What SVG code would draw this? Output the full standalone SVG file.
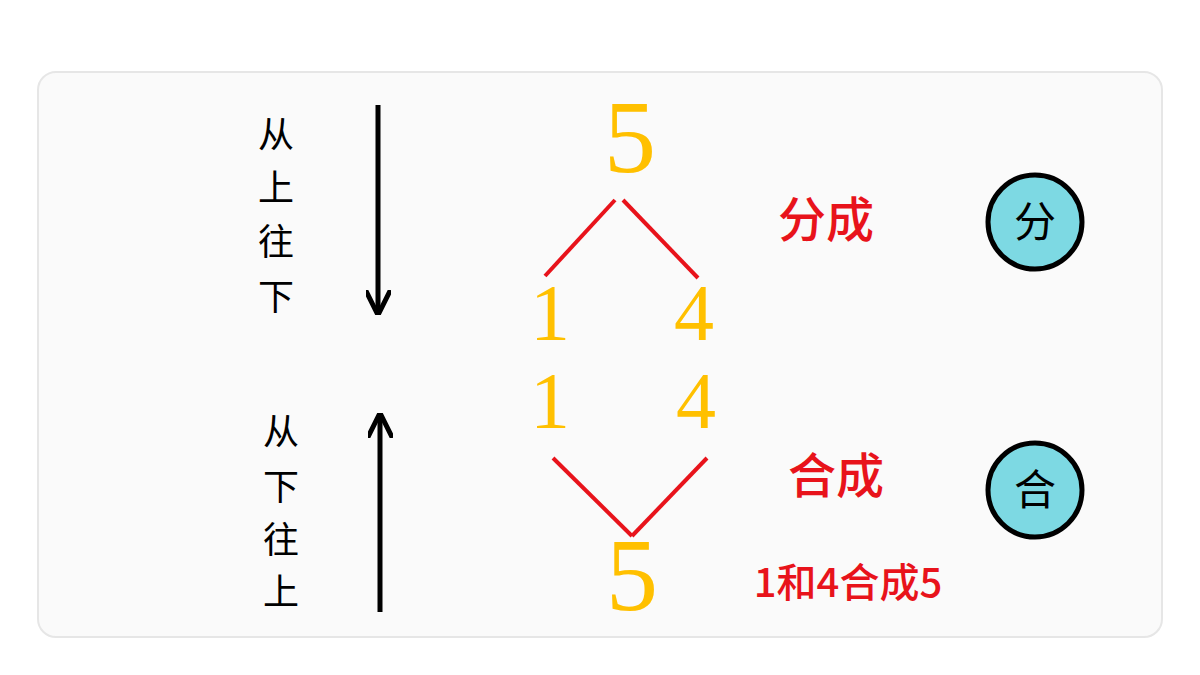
<svg xmlns="http://www.w3.org/2000/svg" width="1200" height="675" viewBox="0 0 1200 675">
<style>
.cn{font-family:"Noto Sans CJK SC","Noto Sans",sans-serif;font-size:36px;fill:#000;text-anchor:middle}
.big{font-size:42px}
.num{font-family:"Liberation Serif","DejaVu Serif",serif;fill:#FFC000;text-anchor:middle}
.red{font-family:"Noto Sans CJK SC",sans-serif;fill:#E8131B;text-anchor:middle;font-weight:500}
.ln{stroke:#E8131B;stroke-width:4}
.ar{stroke:#000;stroke-width:5}
.c{fill:#7DD9E3;stroke:#000;stroke-width:5}
</style>
<defs>
<marker id="ah" viewBox="0 0 10 10" refX="8" refY="5" markerWidth="5" markerHeight="5" orient="auto"><path d="M0,0 L10,5 L0,10" fill="none" stroke="#000" stroke-width="2"/></marker>
</defs>
<rect width="1200" height="675" fill="#fff"/>
<rect x="38" y="72" width="1124" height="565" rx="18" fill="#fafafa" stroke="#e6e6e6" stroke-width="2"/>
<g id="labels">
<text class="cn" x="276" y="148">从</text><text class="cn" x="276" y="201">上</text><text class="cn" x="276" y="255">往</text><text class="cn" x="276" y="310">下</text>
<text class="cn" x="281" y="445">从</text><text class="cn" x="281" y="500">下</text><text class="cn" x="281" y="553">往</text><text class="cn" x="281" y="605">上</text>
</g>
<g id="connectors">
<line class="ar" x1="378" y1="105" x2="378" y2="310" marker-end="url(#ah)"/>
<line class="ar" x1="380" y1="612" x2="380" y2="418" marker-end="url(#ah)"/>
<line class="ln" x1="545" y1="276" x2="615" y2="200"/>
<line class="ln" x1="623" y1="200" x2="698" y2="278"/>
<line class="ln" x1="553" y1="458" x2="632" y2="536"/>
<line class="ln" x1="632" y1="536" x2="707" y2="458"/>
</g>
<g id="numbers">
<text class="num" x="630" y="172" font-size="104">5</text>
<text class="num" x="550" y="340" font-size="80">1</text>
<text class="num" x="694" y="340" font-size="80">4</text>
<text class="num" x="550" y="428" font-size="80">1</text>
<text class="num" x="696" y="428" font-size="80">4</text>
<text class="num" x="632" y="610" font-size="104">5</text>
</g>
<g id="text-red">
<text class="red" x="826" y="237" font-size="48">分成</text>
<text class="red" x="836" y="493" font-size="48">合成</text>
<text class="red" x="848" y="597" font-size="40">1和4合成5</text>
</g>
<g id="node-fen"><circle class="c" cx="1035" cy="222" r="47"/><text class="cn big" x="1035" y="237">分</text></g>
<g id="node-he"><circle class="c" cx="1035" cy="490" r="47"/><text class="cn big" x="1035" y="505">合</text></g>
</svg>
